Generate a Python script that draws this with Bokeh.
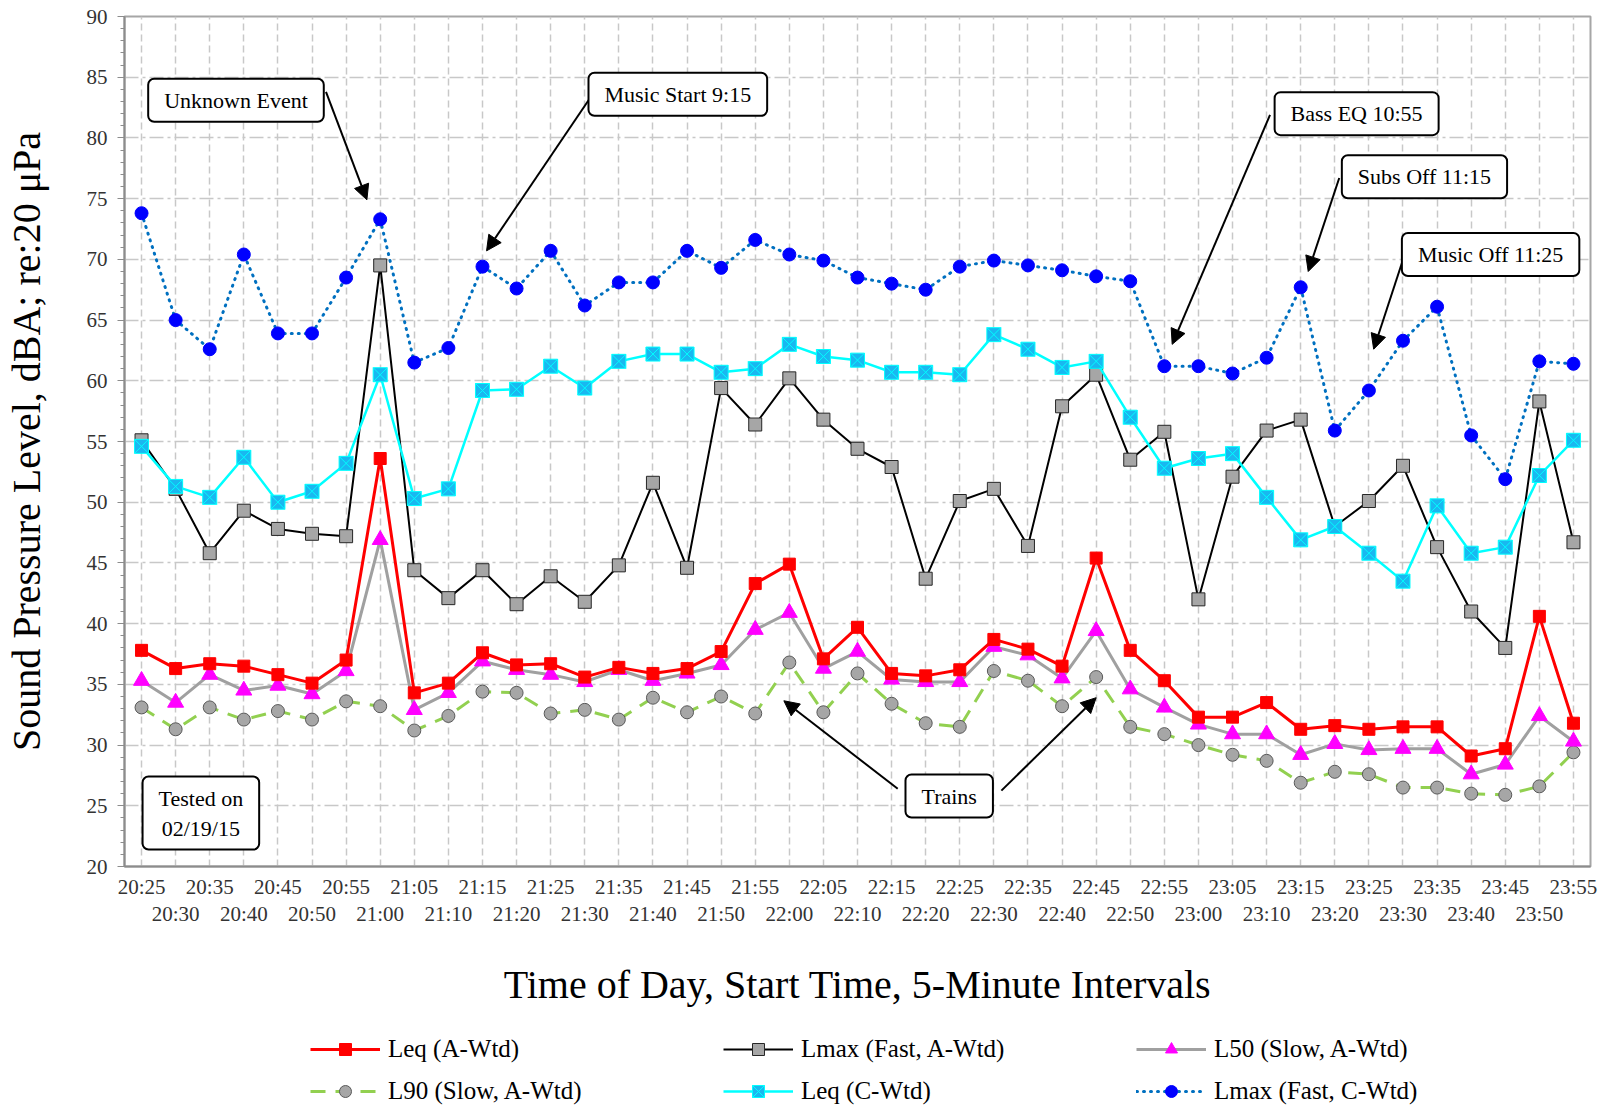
from bokeh.plotting import figure
from bokeh.layouts import column
from bokeh.models import (Range1d, SingleIntervalTicker, FixedTicker, LinearAxis,
                          Legend, LegendItem, Label, Arrow, NormalHead)
from bokeh.embed import file_html
from bokeh.resources import INLINE

# ---------------- data ----------------
times = ["20:25", "20:30", "20:35", "20:40", "20:45", "20:50", "20:55",
         "21:00", "21:05", "21:10", "21:15", "21:20", "21:25", "21:30", "21:35", "21:40", "21:45", "21:50", "21:55",
         "22:00", "22:05", "22:10", "22:15", "22:20", "22:25", "22:30", "22:35", "22:40", "22:45", "22:50", "22:55",
         "23:00", "23:05", "23:10", "23:15", "23:20", "23:25", "23:30", "23:35", "23:40", "23:45", "23:50", "23:55"]

leq_a = [37.8, 36.3, 36.7, 36.5, 35.8, 35.1, 37.0,
         53.6, 34.3, 35.1, 37.6, 36.6, 36.7, 35.6, 36.4, 35.9, 36.3, 37.7, 43.3,
         44.9, 37.1, 39.7, 35.9, 35.7, 36.2, 38.7, 37.9, 36.5, 45.4, 37.8, 35.3,
         32.3, 32.3, 33.5, 31.3, 31.6, 31.3, 31.5, 31.5, 29.1, 29.7, 40.6, 31.8]

lmax_a = [55.1, 51.1, 45.8, 49.3, 47.8, 47.4, 47.2,
          69.5, 44.4, 42.1, 44.4, 41.6, 43.9, 41.8, 44.8, 51.6, 44.6, 59.4, 56.4,
          60.2, 56.8, 54.4, 52.9, 43.7, 50.1, 51.1, 46.4, 57.9, 60.5, 53.5, 55.8,
          42.0, 52.1, 55.9, 56.8, 48.0, 50.1, 53.0, 46.3, 41.0, 38.0, 58.3, 46.7]

l50 = [35.3, 33.5, 35.8, 34.5, 34.9, 34.2, 36.1,
       46.9, 32.9, 34.3, 36.9, 36.2, 35.8, 35.2, 36.2, 35.3, 35.9, 36.6, 39.5,
       40.9, 36.3, 37.7, 35.4, 35.2, 35.2, 38.1, 37.4, 35.5, 39.4, 34.6, 33.1,
       31.7, 30.9, 30.9, 29.2, 30.1, 29.6, 29.7, 29.7, 27.6, 28.4, 32.4, 30.3]

l90 = [33.1, 31.3, 33.1, 32.1, 32.8, 32.1, 33.6,
       33.2, 31.2, 32.4, 34.4, 34.3, 32.6, 32.9, 32.1, 33.9, 32.7, 34.0, 32.6,
       36.8, 32.7, 35.9, 33.4, 31.8, 31.5, 36.1, 35.3, 33.2, 35.6, 31.5, 30.9,
       30.0, 29.2, 28.7, 26.9, 27.8, 27.6, 26.5, 26.5, 26.0, 25.9, 26.6, 29.4]

leq_c = [54.6, 51.3, 50.4, 53.7, 50.0, 50.9, 53.2,
         60.5, 50.3, 51.1, 59.2, 59.3, 61.2, 59.4, 61.6, 62.2, 62.2, 60.7, 61.0,
         63.0, 62.0, 61.7, 60.7, 60.7, 60.5, 63.8, 62.6, 61.1, 61.6, 57.0, 52.8,
         53.6, 54.0, 50.4, 46.9, 48.0, 45.8, 43.5, 49.7, 45.8, 46.3, 52.2, 55.1]

lmax_c = [73.8, 65.0, 62.6, 70.4, 63.9, 63.9, 68.5,
          73.3, 61.5, 62.7, 69.4, 67.6, 70.7, 66.2, 68.1, 68.1, 70.7, 69.3, 71.6,
          70.4, 69.9, 68.5, 68.0, 67.5, 69.4, 69.9, 69.5, 69.1, 68.6, 68.2, 61.2,
          61.2, 60.6, 61.9, 67.7, 55.9, 59.2, 63.3, 66.1, 55.5, 51.9, 61.6, 61.4]

y_ticks = [20, 25, 30, 35, 40, 45, 50, 55, 60, 65, 70, 75, 80, 85, 90]

# annotation callouts (text, x, y) and arrows (x0, y0, x1, y1) in data units
callouts = [("Unknown Event", 2.77, 83.1),
            ("Music Start 9:15", 15.73, 83.6),
            ("Bass EQ 10:55", 35.64, 82.0),
            ("Subs Off 11:15", 37.63, 76.8),
            ("Music Off 11:25", 39.57, 70.4),
            ("Trains", 23.69, 25.8),
            ("Tested on\n02/19/15", 1.74, 24.4)]
arrows = [(5.41, 83.8, 6.61, 74.9),
          (13.28, 83.8, 10.12, 70.7),
          (33.10, 81.9, 30.23, 63.0),
          (35.13, 76.7, 34.22, 69.0),
          (37.05, 70.4, 36.14, 62.6),
          (22.18, 26.4, 18.84, 33.65),
          (25.22, 26.25, 28.0, 33.9)]

FONT = "Liberation Serif"
xs = list(range(len(times)))

# series styles: (key, label, values, line style, marker style)
series = [
    ("l90", "L90 (Slow, A-Wtd)", l90,
     dict(line_color="#92D050", line_width=3, line_dash="15 10"),
     dict(marker="circle", size=13, fill_color="#A6A6A6", line_color="#595959", line_width=1)),
    ("l50", "L50 (Slow, A-Wtd)", l50,
     dict(line_color="#A0A0A0", line_width=3),
     dict(marker="triangle", size=16, fill_color="#FF00FF", line_color="#FF00FF")),
    ("leqa", "Leq (A-Wtd)", leq_a,
     dict(line_color="#FF0000", line_width=3),
     dict(marker="square", size=12, fill_color="#FF0000", line_color="#FF0000")),
    ("lmaxa", "Lmax (Fast, A-Wtd)", lmax_a,
     dict(line_color="black", line_width=2),
     dict(marker="square", size=13, fill_color="#A6A6A6", line_color="#262626", line_width=1)),
    ("leqc", "Leq (C-Wtd)", leq_c,
     dict(line_color="#00FFFF", line_width=2.5),
     dict(marker="square_x", size=14, fill_color="#19B8F0", line_color="#00FFFF", line_width=1)),
    ("lmaxc", "Lmax (Fast, C-Wtd)", lmax_c,
     dict(line_color="#0070C0", line_width=3, line_dash="1 6", line_cap="round"),
     dict(marker="circle", size=13, fill_color="#0000FF", line_color="#0000FF")),
]
legend_rows = [["leqa", "lmaxa", "l50"], ["l90", "leqc", "lmaxc"]]

# ================= main chart =================
p = figure(width=1621, height=1010, output_backend="svg", toolbar_location=None,
           x_range=Range1d(-0.5, len(times) - 0.5), y_range=Range1d(y_ticks[0], y_ticks[-1]),
           min_border_left=124, min_border_right=31, min_border_top=16, min_border_bottom=144,
           background_fill_color="white", border_fill_color="white")
p.outline_line_color = "#A6A6A6"
p.outline_line_width = 2

# ---- y axis ----
yax = p.yaxis[0]
yax.ticker = SingleIntervalTicker(interval=5, num_minor_ticks=5)
yax.axis_label = "Sound Pressure Level, dBA; re:20 \u03bcPa"
yax.axis_label_text_font = FONT
yax.axis_label_text_font_size = "40px"
yax.axis_label_text_font_style = "normal"
yax.axis_label_text_color = "black"
yax.axis_label_standoff = 35
yax.major_label_text_font = FONT
yax.major_label_text_font_size = "21px"
yax.major_label_text_color = "#333333"
yax.major_label_standoff = 10
yax.axis_line_color = "#8C8C8C"
yax.axis_line_width = 2
yax.major_tick_line_color = "#8C8C8C"
yax.minor_tick_line_color = "#8C8C8C"
yax.major_tick_in = 0
yax.major_tick_out = 7
yax.minor_tick_in = 0
yax.minor_tick_out = 4

# ---- grids ----
p.ygrid[0].ticker = FixedTicker(ticks=y_ticks)
p.ygrid[0].grid_line_color = "#C8C8C8"
p.ygrid[0].grid_line_width = 1.5
p.ygrid[0].grid_line_dash = "14 4 3 4"
p.xgrid[0].ticker = FixedTicker(ticks=xs)
p.xgrid[0].grid_line_color = "#C8C8C8"
p.xgrid[0].grid_line_width = 1.5
p.xgrid[0].grid_line_dash = "7 4"

# ---- x axes (staggered labels) ----
xax = p.xaxis[0]
xax.ticker = FixedTicker(ticks=xs[0::2])
xax.major_label_overrides = {i: times[i] for i in xs[0::2]}
xax.major_label_text_font = FONT
xax.major_label_text_font_size = "21px"
xax.major_label_text_color = "#333333"
xax.major_label_standoff = 8
xax.axis_line_color = "#8C8C8C"
xax.axis_line_width = 2
xax.major_tick_line_color = None
xax.minor_tick_line_color = None
xax.major_tick_out = 0
xax.major_tick_in = 0
xax.minor_tick_out = 0
xax.minor_tick_in = 0

xax2 = LinearAxis(ticker=FixedTicker(ticks=xs[1::2]),
                  major_label_overrides={i: times[i] for i in xs[1::2]},
                  axis_line_color=None, major_tick_line_color=None, minor_tick_line_color=None,
                  major_tick_out=0, major_tick_in=0, minor_tick_out=0, minor_tick_in=0,
                  major_label_text_font=FONT, major_label_text_font_size="21px",
                  major_label_text_color="#333333", major_label_standoff=0,
                  axis_label="Time of Day, Start Time, 5-Minute Intervals",
                  axis_label_text_font=FONT, axis_label_text_font_size="40px",
                  axis_label_text_font_style="normal", axis_label_text_color="black",
                  axis_label_standoff=33)
p.add_layout(xax2, "below")

# ---- series ----
for key, label, vals, lstyle, mstyle in series:
    p.line(xs, vals, **lstyle)
    p.scatter(xs, vals, **mstyle)

# ---- annotations ----
for (x0, y0, x1, y1) in arrows:
    p.add_layout(Arrow(x_start=x0, y_start=y0, x_end=x1, y_end=y1, line_width=2, line_color="black",
                       end=NormalHead(size=15, fill_color="black", line_color="black")))
for (txt, cx, cy) in callouts:
    p.add_layout(Label(x=cx, y=cy, text=txt, text_font=FONT, text_font_size="22px",
                       text_color="black", text_align="center", text_baseline="middle",
                       background_fill_color="white", border_line_color="black",
                       border_line_width=2, border_radius=6, padding=(16, 9)))

# ================= legend strip =================
lg = figure(width=1621, height=100, output_backend="svg", toolbar_location=None,
            x_range=Range1d(0, 1), y_range=Range1d(0, 1),
            min_border_left=0, min_border_right=0, min_border_top=0, min_border_bottom=0,
            x_axis_type=None, y_axis_type=None,
            background_fill_color="white", border_fill_color="white")
lg.outline_line_color = None
lg.grid.visible = False

nan = float("nan")
proxy = {}
for key, label, vals, lstyle, mstyle in series:
    lr = lg.line([nan], [nan], **lstyle)
    mr = lg.scatter([nan], [nan], **mstyle)
    proxy[key] = (label, [lr, mr])

# the strip's frame is aligned with the chart frame (left edge at 124 px)
for keys, vy in zip(legend_rows, (46, 4)):
    items = [LegendItem(label=proxy[k][0], renderers=proxy[k][1]) for k in keys]
    leg = Legend(items=items, orientation="horizontal", location=(186, vy),
                 glyph_width=70, glyph_height=30, label_standoff=8, label_width=214,
                 spacing=121, padding=0, margin=0,
                 border_line_color=None, background_fill_alpha=0,
                 label_text_font=FONT, label_text_font_size="25px", label_text_color="black")
    lg.add_layout(leg, "center")

open("out.html", "w").write(file_html(column(p, lg, spacing=0), INLINE))
